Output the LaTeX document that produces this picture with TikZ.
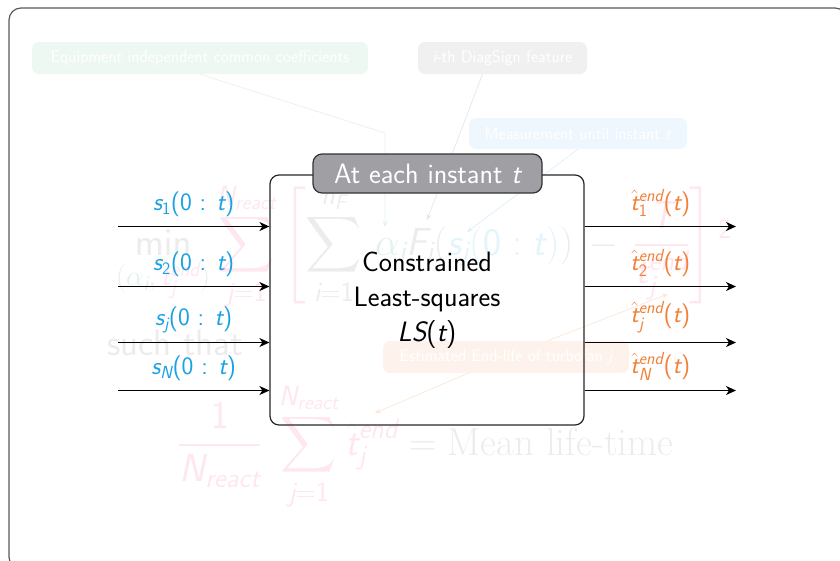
\documentclass[tikz,border=0pt]{standalone}
\usepackage{fix-cm}
\DeclareFontShape{OMX}{cmex}{m}{n}{<->cmex10}{}
\DeclareMathSizes{39}{39}{28}{21}
\usetikzlibrary{arrows.meta}
\DeclareMathAlphabet{\mathsfit}{TU}{lmss}{m}{sl}
\newcommand{\mv}[1]{\mathsfit{#1}}
\definecolor{sblue}{RGB}{27,161,226}
\definecolor{sorange}{RGB}{242,128,56}
\definecolor{tabgray}{RGB}{160,160,164}
\definecolor{fgray}{RGB}{236,236,236}
\definecolor{fpink}{RGB}{254,231,238}
\definecolor{fteal}{RGB}{222,242,238}
\definecolor{fblue}{RGB}{228,244,252}
\definecolor{fgreen}{RGB}{238,248,242}
\definecolor{fgraybox}{RGB}{240,240,240}
\definecolor{fbluebox}{RGB}{238,247,253}
\definecolor{forangebox}{RGB}{253,243,236}
\definecolor{fgreenline}{RGB}{226,243,234}
\definecolor{fgrayline}{RGB}{230,230,230}
\definecolor{fblueline}{RGB}{220,240,250}
\definecolor{forangeline}{RGB}{251,230,216}
\tikzset{
  frame/.style={draw=black!65, line width=1.2pt, rounded corners=12pt},
  ann/.style={rounded corners=7pt, inner sep=0pt, text=white, minimum height=32pt,
    font=\fontsize{17}{20}\selectfont\sffamily},
  annline/.style={line width=0.7pt, -{Stealth[length=6pt,width=5pt]}},
  fml/.style={inner sep=0pt, font=\fontsize{39}{46}\selectfont},
  mainbox/.style={draw=black!85, line width=1.2pt, rounded corners=9pt,
    minimum width=314pt, minimum height=250pt, align=center,
    font=\fontsize{28}{35}\selectfont\sffamily},
  tabbox/.style={draw=black!80, fill=tabgray, line width=1.2pt, rounded corners=9pt,
    minimum width=229pt, minimum height=39pt, inner sep=0pt, text=white,
    font=\fontsize{28}{34}\selectfont\sffamily},
  flow/.style={line width=1.6pt, -{Stealth[length=10pt,width=9pt,inset=3pt]}},
  inlab/.style={text=sblue, inner sep=0pt, font=\fontsize{25}{30}\selectfont\sffamily},
  outlab/.style={text=sorange, inner sep=0pt, font=\fontsize{25}{30}\selectfont\sffamily},
}
\begin{document}
\begin{tikzpicture}[x=1pt,y=-1pt]
\useasboundingbox (0,0) rectangle (840,560);
\begin{scope}
  \clip (0,0) rectangle (840,560);
  \draw[frame] (9,8) rectangle (847,569);
\end{scope}

% faded formula
\node[fml, anchor=base west] (f1) at (116,255) {$\displaystyle
\color{fgray}\mathop{\mathsf{min}}\limits_{(\color{fteal}\alpha_{\mv{i}}\color{fgray},\,\color{fpink}\mv{t}_{\mv{j}}^{\mv{end}}\color{fgray})}
\color{fpink}\sum_{\mv{j}=\mathsf{1}}^{\mv{N}_{\mv{react}}}\left[\color{fgray}\sum_{\mv{i}=\mathsf{1}}^{\mv{n}_{\mv{F}}}\mskip3mu\color{fteal}\alpha_{\mv{i}}\color{fgray}\mv{F}_{\mv{i}}\bigl(\color{fblue}\mv{s}_{\mv{j}}(\mathsf{0}:\mv{t})\color{fgray}\bigr)\mskip3mu-\mskip3mu\color{fpink}\frac{\mv{T}}{\mv{t}_{\mv{j}}^{\mv{end}}}\right]^{\mathsf{2}}$};
\node[fml, anchor=base west, text=fgray, font=\fontsize{37}{44}\selectfont\sffamily] (st) at (107,355) {such that};
\node[fml, anchor=base west] (f2) at (178,455) {$\displaystyle\color{fpink}\frac{\mathsf{1}}{\mv{N}_{\mv{react}}}\mskip5mu\sum_{\mv{j}=\mathsf{1}}^{\mv{N}_{\mv{react}}}\hat{\mv{t}}_{\mv{j}}^{\mv{end}}\color{fgray}=\textrm{Mean life-time}$};

% faded annotations
\coordinate (aBend) at (385,133);
\coordinate (aAlpha) at (385,227);
\coordinate (aF) at (427,220);
\coordinate (aS) at (467,232);
\coordinate (aT1) at (668,294);
\coordinate (aT2) at (375,413);
\coordinate (estc) at (506,357);
\node[ann, fill=fgreen, minimum width=336pt] (eq) at (200,58) {Equipment independent common coefficients};
\node[ann, fill=fgraybox, minimum width=169pt] (diag) at (502.5,58) {$\mv{i}$-th DiagSign feature};
\node[ann, fill=fbluebox, minimum width=218pt, minimum height=31pt] (meas) at (578,133.5) {Measurement until instant $\mv{t}$};
\draw[annline, draw=fgreenline] (eq.south) -- (aBend) -- (aAlpha);
\draw[annline, draw=fgrayline] ([xshift=-20pt]diag.south) -- (aF);
\draw[annline, draw=fblueline] (meas.south) -- (aS);
\draw[annline, draw=forangeline] (estc) -- (aT1);
\draw[annline, draw=forangeline] (estc) -- (aT2);
\node[ann, fill=forangebox, minimum width=246pt] (est) at (estc) {Estimated End-life of turbofan $\mv{j}$};

% main block
\node[mainbox] (ls) at (427,300) {Constrained\\Least-squares\\{\itshape LS}({\itshape t})};
\node[tabbox] (tab) at (427.5,173.5) {At each instant {\itshape t}};

\coordinate (i1) at (118,226.5);
\coordinate (i2) at (118,286.5);
\coordinate (i3) at (118,342.5);
\coordinate (i4) at (118,390.5);
\coordinate (o1) at (736,226.5);
\coordinate (o2) at (736,286.5);
\coordinate (o3) at (736,342.5);
\coordinate (o4) at (736,390.5);

\draw[flow] (i1) -- (i1 -| ls.west) node[midway, above=9pt, inlab] {$\mv{s}_{\mathsf{1}}\textsf{(0 : }\mv{t}\textsf{)}$};
\draw[flow] (i2) -- (i2 -| ls.west) node[midway, above=9pt, inlab] {$\mv{s}_{\mathsf{2}}\textsf{(0 : }\mv{t}\textsf{)}$};
\draw[flow] (i3) -- (i3 -| ls.west) node[midway, above=9pt, inlab] {$\mv{s}_{\mv{j}}\textsf{(0 : }\mv{t}\textsf{)}$};
\draw[flow] (i4) -- (i4 -| ls.west) node[midway, above=9pt, inlab] {$\mv{s}_{\mv{N}}\textsf{(0 : }\mv{t}\textsf{)}$};

\draw[flow] (o1 -| ls.east) -- (o1) node[midway, above=9pt, outlab] {$\hat{\mv{t}}_{\mathsf{1}}^{\mv{end}}\textsf{(}\mv{t}\textsf{)}$};
\draw[flow] (o2 -| ls.east) -- (o2) node[midway, above=9pt, outlab] {$\hat{\mv{t}}_{\mathsf{2}}^{\mv{end}}\textsf{(}\mv{t}\textsf{)}$};
\draw[flow] (o3 -| ls.east) -- (o3) node[midway, above=9pt, outlab] {$\hat{\mv{t}}_{\mv{j}}^{\mv{end}}\textsf{(}\mv{t}\textsf{)}$};
\draw[flow] (o4 -| ls.east) -- (o4) node[midway, above=9pt, outlab] {$\hat{\mv{t}}_{\mv{N}}^{\mv{end}}\textsf{(}\mv{t}\textsf{)}$};
\end{tikzpicture}
\end{document}
